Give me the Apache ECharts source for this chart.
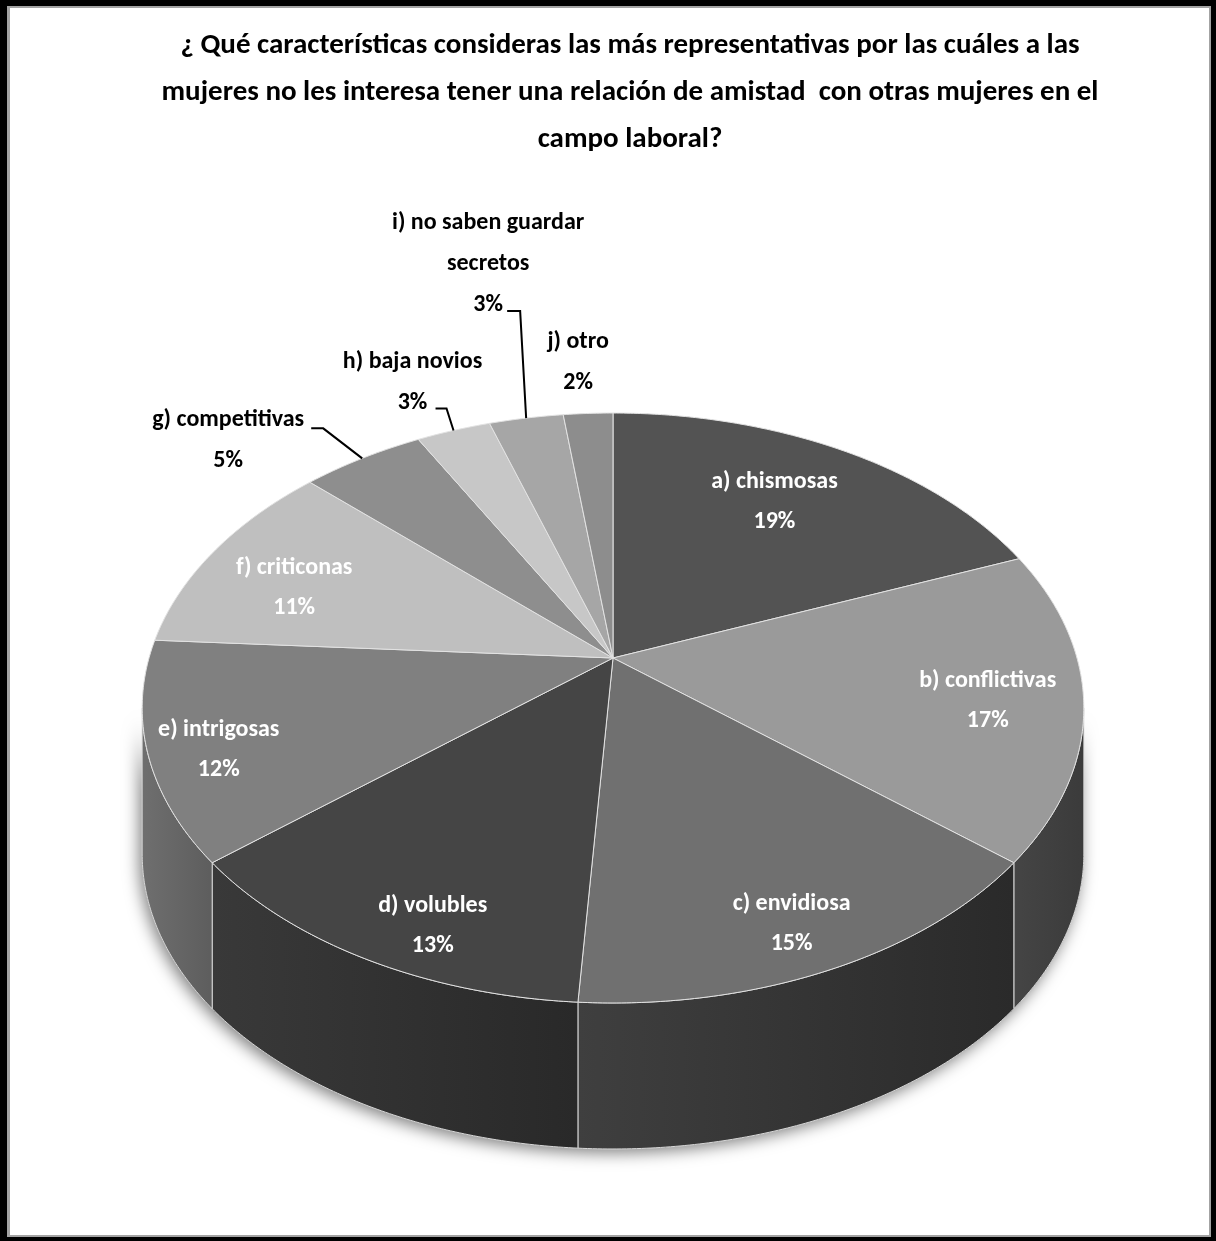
<!DOCTYPE html>
<html><head><meta charset="utf-8">
<script src="https://cdn.jsdelivr.net/npm/echarts@6/dist/echarts.min.js"></script>
<style>
html,body{margin:0;padding:0;background:#fff;}
#chart{position:absolute;left:0;top:0;width:1216px;height:1241px;}
#frame{position:absolute;left:0;top:0;width:1216px;height:1241px;box-sizing:border-box;border-style:solid;border-color:#000;border-width:6px 5px 4px 7px;pointer-events:none;}
#frame div{width:100%;height:100%;box-sizing:border-box;border-style:solid;border-color:#a3a3a3;border-width:2px 2px 2px 3px;}
</style></head>
<body>
<div id="chart"></div>
<div id="frame"><div></div></div>
<script>
// ---- data ----
const categories = ['a) chismosas', 'b) conflictivas', 'c) envidiosa', 'd) volubles', 'e) intrigosas',
  'f) criticonas', 'g) competitivas', 'h) baja novios', 'i) no saben guardar\nsecretos', 'j) otro'];
const values = [19, 17, 15, 13, 12, 11, 5, 3, 3, 2];
const titleText = '¿ Qué características consideras las más representativas por las cuáles a las\n' +
  'mujeres no les interesa tener una relación de amistad  con otras mujeres en el\ncampo laboral?';

// ---- styles ----
const topColors = ['#535353', '#9a9a9a', '#707070', '#454545', '#808080', '#bfbfbf', '#8e8e8e', '#c7c7c7', '#a6a6a6', '#8d8d8d'];
const wallColors = [['#3a3a3a', '#333333'], ['#454545', '#3b3b3b'], ['#3f3f3f', '#2a2a2a'], ['#393939', '#292929'], ['#6f6f6f', '#5d5d5d'],
  ['#777777', '#6a6a6a'], ['#555555', '#4a4a4a'], ['#777777', '#6a6a6a'], ['#5f5f5f', '#555555'], ['#4f4f4f', '#454545']];
const insideLabel = [true, true, true, true, true, true, false, false, false, false];
// label layout: small nudges for inside labels, offsets from the rim point for outside labels
const insideNudge = [[-6, -4], [3, 7], [-5, 4], [28, 16], [-22, 17], [-17, 11]];
const outsideLayout = {
  6: {label: [-134, -18], leader: [[-51, -30], [-39, -30]]},
  7: {label: [-41, -48], leader: [[-18, -22], [-7, -22]]},
  8: {label: [-38, -154], leader: [[-19, -107], [-6, -107]]},
  9: {label: [-10, -51], leader: null}
};

// ---- projection of the tilted disc ----
const CX = 613, CY = 658, A = 464, B = 286.5, K = 0.1695, DEPTH = 146;
const TMIN = Math.acos(-K) * 180 / Math.PI, TMAX = 360 - TMIN;
function proj(theta, r, dy) {
  const t = theta * Math.PI / 180;
  const u = r * Math.sin(t), v = -r * Math.cos(t);
  const w = 1 - K * v;
  return [CX + A * u / w, CY + B * v / w + (dy || 0)];
}
function arc(a, b, dy) {
  const pts = [];
  const n = Math.max(2, Math.ceil(Math.abs(b - a) / 0.5));
  for (let i = 0; i <= n; i++) pts.push(proj(a + (b - a) * i / n, 1, dy));
  return pts;
}
const total = values.reduce((s, v) => s + v, 0);
const starts = [], ends = [];
let acc = 0;
values.forEach(v => { starts.push(acc / total * 360); acc += v; ends.push(acc / total * 360); });

const FONT = 'Carlito';
function renderItem(params, api) {
  const i = params.dataIndex;
  const s = starts[i], e = ends[i];
  const children = [];
  if (i === 0) {
    const pts = arc(TMIN, TMAX, 0).concat(arc(TMAX, TMIN, DEPTH));
    children.push({type: 'polygon', z2: 0, shape: {points: pts},
      style: {fill: '#333', shadowBlur: 16, shadowColor: 'rgba(0,0,0,0.5)', shadowOffsetX: -3, shadowOffsetY: 4}});
  }
  const wa = Math.max(s, TMIN), wb = Math.min(e, TMAX);
  if (wa < wb) {
    const pts = arc(wa, wb, 0).concat(arc(wb, wa, DEPTH));
    children.push({type: 'polygon', z2: 2, shape: {points: pts},
      style: {fill: {type: 'linear', x: 0, y: 0, x2: 1, y2: 0,
        colorStops: [{offset: 0, color: wallColors[i][0]}, {offset: 1, color: wallColors[i][1]}]},
        stroke: '#d8d8d8', lineWidth: 1}});
  }
  const topPts = [[CX, CY]].concat(arc(s, e, 0));
  children.push({type: 'polygon', z2: 5, shape: {points: topPts},
    style: {fill: topColors[i], stroke: '#e2e2e2', lineWidth: 1}});
  const mid = (s + e) / 2;
  const pct = Math.round(api.value(0) / total * 100) + '%';
  const txt = categories[i] + '\n' + pct;
  if (insideLabel[i]) {
    const r = 0.78 - 0.09 * Math.cos(mid * Math.PI / 180);
    const p = proj(mid, r, 0);
    children.push({type: 'text', z2: 10, x: p[0] + insideNudge[i][0], y: p[1] + insideNudge[i][1],
      style: {text: txt, fill: '#fff', font: 'bold 24px ' + FONT, fontFamily: FONT, fontWeight: 'bold', fontSize: 24,
        align: 'center', verticalAlign: 'middle', lineHeight: 40}});
  } else {
    const rim = proj(mid, 1, 0);
    const lay = outsideLayout[i];
    children.push({type: 'text', z2: 10, x: rim[0] + lay.label[0], y: rim[1] + lay.label[1],
      style: {text: txt, fill: '#000', font: 'bold 24px ' + FONT, fontFamily: FONT, fontWeight: 'bold', fontSize: 24,
        align: 'center', verticalAlign: 'middle', lineHeight: 41}});
    if (lay.leader) {
      const pts = lay.leader.map(d => [rim[0] + d[0], rim[1] + d[1]]).concat([rim]);
      children.push({type: 'polyline', z2: 9, shape: {points: pts}, style: {stroke: '#000', lineWidth: 2, fill: null}});
    }
  }
  return {type: 'group', children: children};
}

const chart = echarts.init(document.getElementById('chart'), null, {renderer: 'canvas'});
chart.setOption({
  backgroundColor: 'transparent',
  animation: false,
  title: {
    text: titleText, left: 625, top: 17, textAlign: 'center',
    textStyle: {fontFamily: FONT, fontWeight: 'bold', fontSize: 29, lineHeight: 47, color: '#000'}
  },
  series: [{
    type: 'custom',
    coordinateSystem: 'none',
    renderItem: renderItem,
    data: values.map((v, i) => ({value: [v, i], name: categories[i]}))
  }]
});
</script>
</body></html>
